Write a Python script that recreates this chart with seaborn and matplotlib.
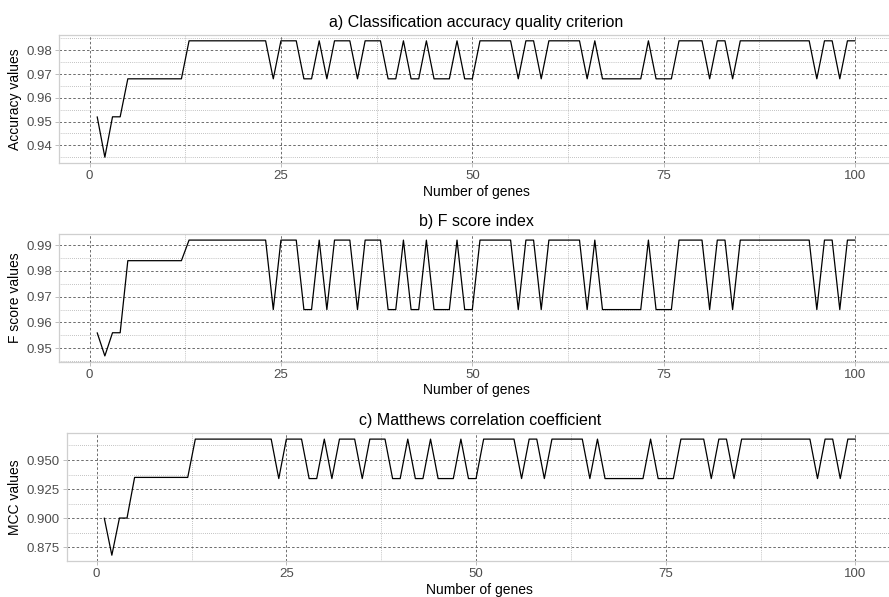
import matplotlib
matplotlib.use("Agg")
import pandas as pd
import seaborn as sns
from matplotlib import pyplot as plt
from matplotlib.ticker import MultipleLocator, FormatStrFormatter

# number of genes on the x axis
genes = list(range(1, 101))

# a) classification accuracy
accuracy = [
    0.952, 0.935, 0.952, 0.952, 0.968, 0.968, 0.968, 0.968, 0.968, 0.968,
    0.968, 0.968, 0.984, 0.984, 0.984, 0.984, 0.984, 0.984, 0.984, 0.984,
    0.984, 0.984, 0.984, 0.968, 0.984, 0.984, 0.984, 0.968, 0.968, 0.984,
    0.968, 0.984, 0.984, 0.984, 0.968, 0.984, 0.984, 0.984, 0.968, 0.968,
    0.984, 0.968, 0.968, 0.984, 0.968, 0.968, 0.968, 0.984, 0.968, 0.968,
    0.984, 0.984, 0.984, 0.984, 0.984, 0.968, 0.984, 0.984, 0.968, 0.984,
    0.984, 0.984, 0.984, 0.984, 0.968, 0.984, 0.968, 0.968, 0.968, 0.968,
    0.968, 0.968, 0.984, 0.968, 0.968, 0.968, 0.984, 0.984, 0.984, 0.984,
    0.968, 0.984, 0.984, 0.968, 0.984, 0.984, 0.984, 0.984, 0.984, 0.984,
    0.984, 0.984, 0.984, 0.984, 0.968, 0.984, 0.984, 0.968, 0.984, 0.984,
]

# b) F score
f_score = [
    0.956, 0.947, 0.956, 0.956, 0.984, 0.984, 0.984, 0.984, 0.984, 0.984,
    0.984, 0.984, 0.992, 0.992, 0.992, 0.992, 0.992, 0.992, 0.992, 0.992,
    0.992, 0.992, 0.992, 0.965, 0.992, 0.992, 0.992, 0.965, 0.965, 0.992,
    0.965, 0.992, 0.992, 0.992, 0.965, 0.992, 0.992, 0.992, 0.965, 0.965,
    0.992, 0.965, 0.965, 0.992, 0.965, 0.965, 0.965, 0.992, 0.965, 0.965,
    0.992, 0.992, 0.992, 0.992, 0.992, 0.965, 0.992, 0.992, 0.965, 0.992,
    0.992, 0.992, 0.992, 0.992, 0.965, 0.992, 0.965, 0.965, 0.965, 0.965,
    0.965, 0.965, 0.992, 0.965, 0.965, 0.965, 0.992, 0.992, 0.992, 0.992,
    0.965, 0.992, 0.992, 0.965, 0.992, 0.992, 0.992, 0.992, 0.992, 0.992,
    0.992, 0.992, 0.992, 0.992, 0.965, 0.992, 0.992, 0.965, 0.992, 0.992,
]

# c) Matthews correlation coefficient
mcc = [
    0.900, 0.868, 0.900, 0.900, 0.935, 0.935, 0.935, 0.935, 0.935, 0.935,
    0.935, 0.935, 0.968, 0.968, 0.968, 0.968, 0.968, 0.968, 0.968, 0.968,
    0.968, 0.968, 0.968, 0.934, 0.968, 0.968, 0.968, 0.934, 0.934, 0.968,
    0.934, 0.968, 0.968, 0.968, 0.934, 0.968, 0.968, 0.968, 0.934, 0.934,
    0.968, 0.934, 0.934, 0.968, 0.934, 0.934, 0.934, 0.968, 0.934, 0.934,
    0.968, 0.968, 0.968, 0.968, 0.968, 0.934, 0.968, 0.968, 0.934, 0.968,
    0.968, 0.968, 0.968, 0.968, 0.934, 0.968, 0.934, 0.934, 0.934, 0.934,
    0.934, 0.934, 0.968, 0.934, 0.934, 0.934, 0.968, 0.968, 0.968, 0.968,
    0.934, 0.968, 0.968, 0.934, 0.968, 0.968, 0.968, 0.968, 0.968, 0.968,
    0.968, 0.968, 0.968, 0.968, 0.934, 0.968, 0.968, 0.934, 0.968, 0.968,
]

titles = ["a) Classification accuracy quality criterion", "b) F score index",
          "c) Matthews correlation coefficient"]
ylabels = ["Accuracy values", "F score values", "MCC values"]
series = [accuracy, f_score, mcc]
# (major step, minor step, tick format) for the y axis of each panel
ysteps = [(0.01, 0.005, "%.2f"), (0.01, 0.005, "%.2f"), (0.025, 0.0125, "%.3f")]

sns.set_theme(style="white")
plt.rcParams["font.family"] = ["Liberation Sans", "DejaVu Sans"]

W, H = 889, 597
fig = plt.figure(figsize=(W / 100, H / 100), dpi=100)

# panel boxes in pixels: left, top, bottom (right edge runs off the figure)
boxes = [(59.3, 35, 163), (59.3, 234.3, 361.7), (66.7, 433.3, 561)]
right = 893

for i in range(3):
    left, top, bottom = boxes[i]
    ax = fig.add_axes([left / W, 1 - bottom / H, (right - left) / W, (bottom - top) / H])
    df = pd.DataFrame({"genes": genes, "value": series[i]})
    sns.lineplot(data=df, x="genes", y="value", ax=ax, color="black", linewidth=0.9)

    # ggplot style 5% expansion
    xr = max(genes) - min(genes)
    ax.set_xlim(min(genes) - 0.05 * xr, max(genes) + 0.05 * xr)
    yr = max(series[i]) - min(series[i])
    ax.set_ylim(min(series[i]) - 0.05 * yr, max(series[i]) + 0.05 * yr)

    ax.xaxis.set_major_locator(MultipleLocator(25))
    ax.xaxis.set_minor_locator(MultipleLocator(12.5))
    major, minor, fmt = ysteps[i]
    ax.yaxis.set_major_locator(MultipleLocator(major))
    ax.yaxis.set_minor_locator(MultipleLocator(minor))
    ax.yaxis.set_major_formatter(FormatStrFormatter(fmt))

    ax.grid(which="major", linestyle=(0, (3, 2.5)), color="#555555", linewidth=0.6)
    ax.grid(which="minor", linestyle=(0, (1, 2)), color="#8a8a8a", linewidth=0.5)
    ax.set_axisbelow(True)

    for s in ax.spines.values():
        s.set_color("#cfcfcf")
        s.set_linewidth(0.9)
    ax.tick_params(which="major", length=3, width=0.6, color="#b3b3b3",
                   labelcolor="#4d4d4d", labelsize=9.5, pad=2,
                   bottom=True, left=True)
    ax.tick_params(which="minor", length=0)

    ax.set_title(titles[i], fontsize=11.5, color="black", pad=6)
    ax.set_xlabel("Number of genes", fontsize=10, color="black", labelpad=2)
    ax.set_ylabel(ylabels[i], fontsize=10, color="black", labelpad=3)

fig.savefig("out.png", dpi=100)
